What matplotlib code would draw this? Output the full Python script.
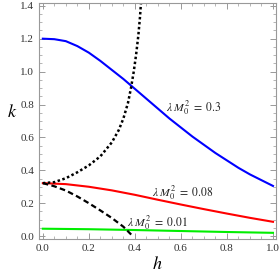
import matplotlib.pyplot as plt
from matplotlib.ticker import MultipleLocator

plt.rcParams['font.family'] = ['Liberation Serif', 'DejaVu Serif']
plt.rcParams['mathtext.fontset'] = 'stix'

# curves
h_blue = [0.0, 0.05, 0.1, 0.15, 0.2, 0.25, 0.3, 0.35, 0.4, 0.45, 0.5,
          0.55, 0.6, 0.65, 0.7, 0.75, 0.8, 0.85, 0.9, 0.95, 1.0]
k_blue = [1.2, 1.197, 1.185, 1.155, 1.115, 1.065, 1.01, 0.955, 0.895, 0.835, 0.775,
          0.715, 0.66, 0.605, 0.555, 0.505, 0.46, 0.415, 0.375, 0.34, 0.305]

h_red = [0.0, 0.1, 0.2, 0.3, 0.4, 0.5, 0.6, 0.7, 0.8, 0.9, 1.0]
k_red = [0.322, 0.316, 0.30, 0.278, 0.251, 0.221, 0.192, 0.164, 0.137, 0.111, 0.087]

h_green = [0.0, 0.2, 0.4, 0.6, 0.8, 1.0]
k_green = [0.045, 0.042, 0.037, 0.031, 0.025, 0.02]

h_upper = [0.0, 0.05, 0.1, 0.15, 0.2, 0.25, 0.3, 0.33, 0.35, 0.37, 0.383,
           0.395, 0.405, 0.415, 0.422, 0.428]
k_upper = [0.322, 0.328, 0.352, 0.388, 0.43, 0.485, 0.57, 0.645, 0.715, 0.81, 0.9,
           1.0, 1.1, 1.22, 1.33, 1.45]

h_lower = [0.0, 0.05, 0.1, 0.15, 0.2, 0.25, 0.3, 0.35, 0.385]
k_lower = [0.322, 0.303, 0.277, 0.241, 0.200, 0.156, 0.110, 0.057, 0.008]

labels = [r'$\lambda\; M_0^2\;=\;0.3$', r'$\lambda\; M_0^2\;=\;0.08$', r'$\lambda\; M_0^2\;=\;0.01$']
label_pos = [(0.655, 0.78), (0.607, 0.264), (0.497, 0.08)]

fig = plt.figure(figsize=(2.8, 2.78), dpi=100)
ax = fig.add_axes([0.139, 0.14, 0.845, 0.851])

ax.plot(h_blue, k_blue, color='#0000ff', lw=1.5)
ax.plot(h_red, k_red, color='#ff0000', lw=1.5)
ax.plot(h_green, k_green, color='#00ee00', lw=1.5)
ax.plot(h_upper, k_upper, color='black', lw=1.8, linestyle=(0, (1, 1)))
ax.plot(h_lower, k_lower, color='black', lw=1.6, linestyle=(0, (2.5, 1.5)))

for txt, (x, y) in zip(labels, label_pos):
    ax.text(x, y, txt, fontsize=8.5, ha='center', va='center', color='#222222')

ax.set_xlim(-0.017, 1.011)
ax.set_ylim(-0.018, 1.42)
ax.xaxis.set_major_locator(MultipleLocator(0.2))
ax.xaxis.set_minor_locator(MultipleLocator(0.05))
ax.yaxis.set_major_locator(MultipleLocator(0.2))
ax.yaxis.set_minor_locator(MultipleLocator(0.05))
ax.xaxis.set_major_formatter(plt.FormatStrFormatter('%.1f'))
ax.yaxis.set_major_formatter(plt.FormatStrFormatter('%.1f'))

ax.tick_params(which='both', direction='in', top=True, right=True,
               color='#999999', labelsize=8, labelcolor='#333333')
ax.tick_params(which='major', length=4, width=0.7)
ax.tick_params(which='minor', length=2, width=0.5)
for s in ax.spines.values():
    s.set_color('#999999')
    s.set_linewidth(0.8)

ax.set_xlabel(r'$h$', fontsize=13, labelpad=2)
ax.set_ylabel(r'$k$', fontsize=13, rotation=0, labelpad=6)

fig.savefig('out.png', dpi=100)
